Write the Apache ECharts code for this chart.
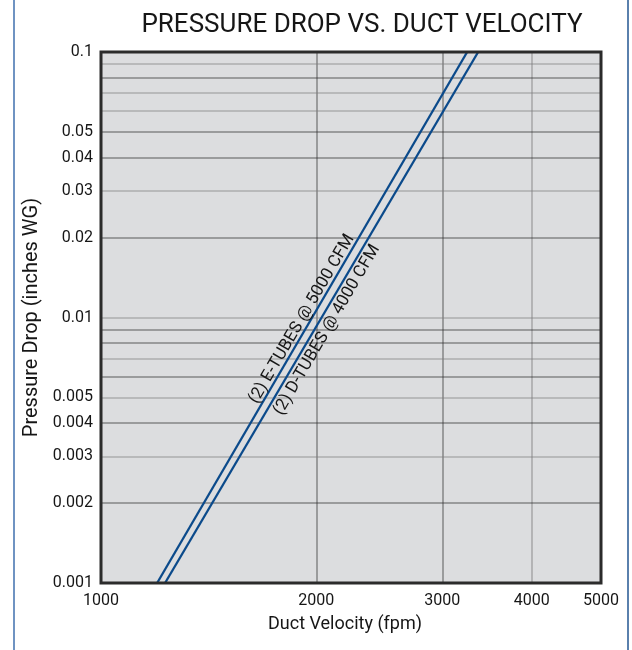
<!DOCTYPE html>
<html>
<head>
<meta charset="utf-8">
<script src="https://cdn.jsdelivr.net/npm/echarts@6/dist/echarts.min.js"></script>
<style>
  html, body { margin: 0; padding: 0; background: #ffffff; }
  #chart { width: 632px; height: 650px; }
</style>
</head>
<body>
<div id="chart"></div>
<script>
// ---- data ----
const chartTitle = 'PRESSURE DROP VS. DUCT VELOCITY';
const xTickLabels = [1000, 2000, 3000, 4000, 5000];
const yTickLabels = [0.001, 0.002, 0.003, 0.004, 0.005, 0.01, 0.02, 0.03, 0.04, 0.05, 0.1];
const xGridDark = [2000, 3000];
const xGridLight = [4000];
const yGridDark = [0.002, 0.004, 0.006, 0.008, 0.009, 0.02, 0.04, 0.05, 0.08];
const yGridLight = [0.003, 0.005, 0.007, 0.01, 0.03, 0.06, 0.07, 0.09];
const eTubesName = '(2) E-TUBES @ 5000 CFM';
const eTubes = [[1198, 0.001], [3250, 0.1]];
const dTubesName = '(2) D-TUBES @ 4000 CFM';
const dTubes = [[1229, 0.001], [3367, 0.1]];
// label anchor points (on each line, in data units)
const eLabelAnchor = [1955, 0.0095];
const dLabelAnchor = [2010, 0.0094];

const FONT = "Roboto, 'DejaVu Sans', sans-serif";
const LINE_COLOR = '#0b4a8b';
const DARK_GRID = '#2e2e2e';
const LIGHT_GRID = '#7d7d7d';
const TEXT_COLOR = '#161616';

const xMin = xTickLabels[0], xMax = xTickLabels[xTickLabels.length - 1];
const yMin = yTickLabels[0], yMax = yTickLabels[yTickLabels.length - 1];

const chart = echarts.init(document.getElementById('chart'), null, { renderer: 'canvas' });

function fmt(v) { return String(+(+v).toPrecision(3)); }

function vLine(v, color, w) { return { coords: [[v, yMin], [v, yMax]], lineStyle: { color: color, width: w } }; }
function hLine(v, color, w) { return { coords: [[xMin, v], [xMax, v]], lineStyle: { color: color, width: w } }; }

const gridLinesData = []
  .concat(xGridDark.map(v => vLine(v, DARK_GRID, 1.5)))
  .concat(xGridLight.map(v => vLine(v, LIGHT_GRID, 1.7)))
  .concat(yGridDark.map(v => hLine(v, DARK_GRID, 1.5)))
  .concat(yGridLight.map(v => hLine(v, LIGHT_GRID, 1.7)));

const option = {
  animation: false,
  backgroundColor: '#ffffff',
  title: {
    text: chartTitle,
    left: 357,
    textAlign: 'center',
    top: 7,
    textStyle: { fontFamily: FONT, fontSize: 26, fontWeight: 'normal', color: TEXT_COLOR }
  },
  grid: {
    left: 101, right: 31, top: 52, bottom: 67,
    show: true,
    backgroundColor: '#dcdddf',
    borderColor: '#2b2b2b',
    borderWidth: 0
  },
  xAxis: {
    type: 'log',
    logBase: 10,
    min: xMin,
    max: xMax,
    name: 'Duct Velocity (fpm)',
    nameLocation: 'middle',
    nameGap: 32,
    nameTextStyle: { fontFamily: FONT, fontSize: 18, fontWeight: 'normal', color: TEXT_COLOR, padding: [0, 12, 0, 0] },
    axisLine: { show: false },
    axisTick: { show: false },
    splitLine: { show: false },
    axisLabel: {
      customValues: xTickLabels,
      formatter: v => fmt(v),
      margin: 10,
      fontFamily: FONT, fontSize: 16, fontWeight: 'normal', color: TEXT_COLOR
    }
  },
  yAxis: {
    type: 'log',
    logBase: 10,
    min: yMin,
    max: yMax,
    name: 'Pressure Drop (inches WG)',
    nameLocation: 'middle',
    nameRotate: 90,
    nameGap: 51,
    nameTextStyle: { fontFamily: FONT, fontSize: 20, fontWeight: 'normal', color: TEXT_COLOR },
    axisLine: { show: false },
    axisTick: { show: false },
    splitLine: { show: false },
    axisLabel: {
      customValues: yTickLabels,
      formatter: v => fmt(v),
      margin: 8,
      fontFamily: FONT, fontSize: 16, fontWeight: 'normal', color: TEXT_COLOR
    }
  },
  series: [
    {
      name: 'grid',
      type: 'lines',
      coordinateSystem: 'cartesian2d',
      silent: true,
      z: 1,
      data: gridLinesData
    },
    {
      name: eTubesName,
      type: 'line',
      data: eTubes,
      showSymbol: false,
      clip: true,
      z: 3,
      lineStyle: { color: LINE_COLOR, width: 2.3 }
    },
    {
      name: dTubesName,
      type: 'line',
      data: dTubes,
      showSymbol: false,
      clip: true,
      z: 3,
      lineStyle: { color: LINE_COLOR, width: 2.3 }
    }
  ]
};

chart.setOption(option);

function addOverlays() {
  const g0 = chart.convertToPixel({ gridIndex: 0 }, [xMin, yMin]);
  const g1 = chart.convertToPixel({ gridIndex: 0 }, [xMax, yMax]);
  const ePix0 = chart.convertToPixel({ gridIndex: 0 }, eTubes[0]);
  const ePix1 = chart.convertToPixel({ gridIndex: 0 }, eTubes[1]);
  const ang = Math.atan2(ePix0[1] - ePix1[1], ePix1[0] - ePix0[0]);
  const ea = chart.convertToPixel({ gridIndex: 0 }, eLabelAnchor);
  const da = chart.convertToPixel({ gridIndex: 0 }, dLabelAnchor);
  const labelStyle = { fontFamily: FONT, fontSize: 17, fill: TEXT_COLOR };
  chart.setOption({
    graphic: [
      {
        type: 'rect', z: 10, silent: true,
        shape: { x: g0[0], y: g1[1], width: g1[0] - g0[0], height: g0[1] - g1[1] },
        style: { fill: 'none', stroke: '#2b2b2b', lineWidth: 3 }
      },
      {
        type: 'text', z: 10, silent: true,
        x: ea[0], y: ea[1], rotation: ang,
        style: Object.assign({ text: eTubesName, align: 'center', verticalAlign: 'bottom' }, labelStyle)
      },
      {
        type: 'text', z: 10, silent: true,
        x: da[0], y: da[1], rotation: ang,
        style: Object.assign({ text: dTubesName, align: 'center', verticalAlign: 'top', padding: [2, 0, 0, 0] }, labelStyle)
      },
      {
        type: 'line', z: 10, silent: true,
        shape: { x1: 14, y1: 0, x2: 14, y2: 650 },
        style: { stroke: '#3f6fae', lineWidth: 1.5 }
      },
      {
        type: 'line', z: 10, silent: true,
        shape: { x1: 628, y1: 0, x2: 628, y2: 650 },
        style: { stroke: '#5a80ad', lineWidth: 2 }
      }
    ]
  });
}
addOverlays();
</script>
</body>
</html>
